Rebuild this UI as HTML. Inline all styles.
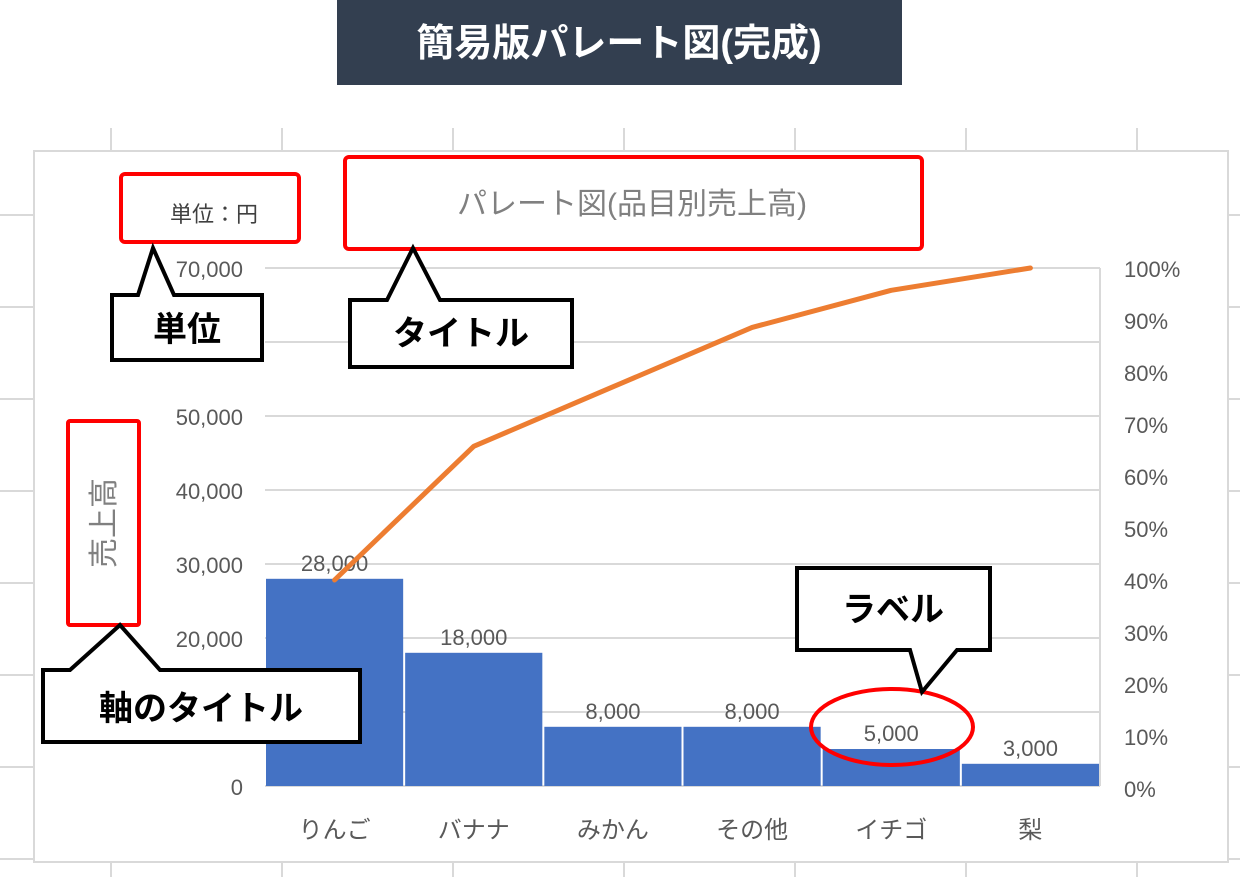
<!DOCTYPE html>
<html><head><meta charset="utf-8"><style>
body{margin:0;width:1240px;height:877px;overflow:hidden;background:#fff;font-family:"Liberation Sans","Noto Sans CJK JP",sans-serif}
svg text{font-family:"Liberation Sans","Noto Sans CJK JP",sans-serif}
</style></head><body>
<svg width="1240" height="877" viewBox="0 0 1240 877">
<g id="sheet" stroke="#d9d9d9" stroke-width="2"></g>
<rect x="337" y="0" width="565" height="85" fill="#333f50"/>
<text x="619" y="56" text-anchor="middle" font-size="38" font-weight="bold" fill="#fff">簡易版パレート図(完成)</text>
<rect x="34" y="151" width="1194" height="711" fill="#fff" stroke="#d9d9d9" stroke-width="2"/>
<g id="chart"></g>
<text x="632" y="214" text-anchor="middle" font-size="30" fill="#808080">パレート図(品目別売上高)</text>
<text x="214" y="222" text-anchor="middle" font-size="22" fill="#404040">単位：円</text>
<text transform="translate(114,523) rotate(-90)" text-anchor="middle" font-size="30" fill="#808080">売上高</text>
<g fill="none" stroke="#ff0000" stroke-width="4">
<rect x="121" y="174" width="178" height="68" rx="4"/>
<rect x="345" y="157" width="577" height="92" rx="4"/>
<rect x="68" y="421" width="71" height="204" rx="2"/>
<ellipse cx="892" cy="727" rx="81" ry="38"/>
</g>
<g fill="#fff" stroke="#000" stroke-width="4">
<path d="M112 295 H138 L153 248 L174 295 H262 V360 H112 Z"/>
<path d="M350 300 H387 L413 248 L440 300 H572 V367 H350 Z"/>
<path d="M797 568 H990 V650 H957 L922 692 L910 650 H797 Z"/>
<path d="M43 670 H70 L120 625 L160 670 H360 V742 H43 Z"/>
</g>
<g font-weight="bold" font-size="34" fill="#000" text-anchor="middle">
<text x="187" y="341">単位</text>
<text x="461" y="345">タイトル</text>
<text x="893" y="621">ラベル</text>
<text x="201" y="720">軸のタイトル</text>
</g>
</svg>
<script>
const categories=["りんご","バナナ","みかん","その他","イチゴ","梨"];
const sales=[28000,18000,8000,8000,5000,3000];
const salesLabels=["28,000","18,000","8,000","8,000","5,000","3,000"];
const leftTicks=[0,10000,20000,30000,40000,50000,60000,70000];
const leftTickLabels=["0","10,000","20,000","30,000","40,000","50,000","60,000","70,000"];
const rightTicks=[0,10,20,30,40,50,60,70,80,90,100];
const NS="http://www.w3.org/2000/svg";
const X0=265,X1=1100,Y0=786,YT=268;
const yL=v=>Y0-(v/70000)*(Y0-YT);
const yR=p=>788-(p/100)*(788-YT);
const bw=(X1-X0)/categories.length;
const xC=i=>X0+bw*(i+0.5);
function mk(t,a,p){const e=document.createElementNS(NS,t);for(const k in a)e.setAttribute(k,a[k]);p.appendChild(e);return e;}
const sheet=document.getElementById('sheet');
[111,282,453,624,795,966,1137].forEach(x=>{mk('line',{x1:x,y1:128,x2:x,y2:151},sheet);mk('line',{x1:x,y1:862,x2:x,y2:877},sheet);});
[215,307,399,491,583,675,767,859].forEach(y=>{mk('line',{x1:0,y1:y,x2:33,y2:y},sheet);mk('line',{x1:1229,y1:y,x2:1240,y2:y},sheet);});
const g=document.getElementById('chart');
leftTicks.forEach((v,i)=>{
 const l=mk('line',{x1:X0,y1:yL(v),x2:X1,y2:yL(v),stroke:'#d9d9d9','stroke-width':2},g);
 
 
 const t=mk('text',{x:243,y:yL(v)+9,'text-anchor':'end','font-size':22,fill:'#595959'},g);
 t.textContent=leftTickLabels[i];
 
 
});
const r=mk('line',{x1:X1,y1:YT,x2:X1,y2:Y0,stroke:'#d9d9d9','stroke-width':2},g);


rightTicks.forEach(p=>{
 const t=mk('text',{x:1124,y:yR(p)+9,'font-size':22,fill:'#595959'},g);
 t.textContent=p+'%';
 
 
});
sales.forEach((v,i)=>{
 const b=mk('rect',{x:X0+bw*i+1,y:yL(v),width:bw-2,height:Y0-yL(v),fill:'#4472c4'},g);
 
 
 const t=mk('text',{x:xC(i),y:yL(v)-8,'text-anchor':'middle','font-size':22,fill:'#595959'},g);
 t.textContent=salesLabels[i];
 
 
 const c=mk('text',{x:xC(i),y:838,'text-anchor':'middle','font-size':24,fill:'#595959'},g);
 c.textContent=categories[i];
 
 
});
const total=sales.reduce((a,b)=>a+b,0);let cum=0;
const pts=sales.map((v,i)=>{cum+=v;return xC(i)+','+yR(cum/total*100);});
const pl=mk('polyline',{points:pts.join(' '),fill:'none',stroke:'#ed7d31','stroke-width':5,'stroke-linejoin':'round','stroke-linecap':'round'},g);


</script>
</body></html>
